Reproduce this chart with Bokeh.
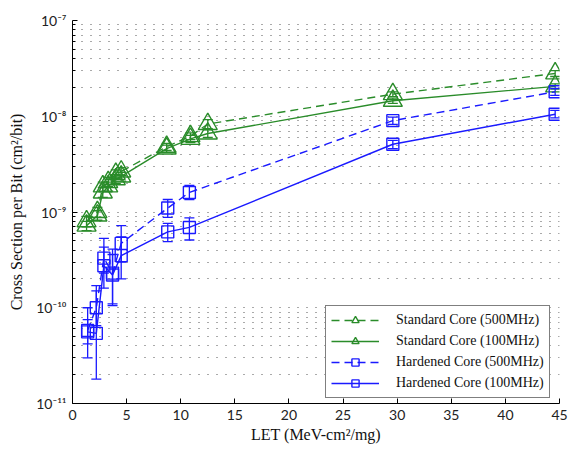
from bokeh.plotting import figure
from bokeh.models import (ColumnDataSource, Whisker, FixedTicker, CustomJSTickFormatter,
                          TeeHead, Legend, LegendItem)
from bokeh.embed import file_html
from bokeh.resources import INLINE

# ---------------- data ----------------
std_let = [1.3, 2.3, 2.8, 3.3, 4.0, 4.5, 8.7, 10.9, 12.5, 29.6, 44.6]
std500 = [8.0e-10, 1.0e-9, 1.85e-9, 2.05e-9, 2.5e-9, 2.65e-9, 4.8e-9, 6.2e-9, 8.3e-9, 1.7e-8, 2.8e-8]
std500_lo = [7.0e-10, 8.8e-10, 1.65e-9, 1.85e-9, 2.25e-9, 2.4e-9, 4.4e-9, 5.7e-9, 7.4e-9, 1.6e-8, 2.6e-8]
std500_hi = [9.0e-10, 1.12e-9, 2.05e-9, 2.3e-9, 2.75e-9, 2.9e-9, 5.2e-9, 6.7e-9, 9.2e-9, 1.8e-8, 3.0e-8]
std100 = [7.2e-10, 9.2e-10, 1.6e-9, 1.85e-9, 2.2e-9, 2.35e-9, 4.6e-9, 5.8e-9, 6.6e-9, 1.45e-8, 2.05e-8]
std100_lo = [6.4e-10, 8.2e-10, 1.42e-9, 1.65e-9, 1.98e-9, 2.1e-9, 4.2e-9, 5.3e-9, 6.0e-9, 1.36e-8, 1.92e-8]
std100_hi = [8.0e-10, 1.03e-9, 1.8e-9, 2.05e-9, 2.45e-9, 2.6e-9, 5.0e-9, 6.3e-9, 7.2e-9, 1.55e-8, 2.18e-8]

hrd_let = [1.4, 2.2, 2.9, 3.7, 4.5, 8.8, 10.8, 29.6, 44.6]
hrd500 = [5.8e-11, 1.0e-10, 3.3e-10, 2.3e-10, 4.7e-10, 1.1e-9, 1.6e-9, 9.0e-9, 1.8e-8]
hrd500_lo = [3.0e-11, 6.5e-11, 2.3e-10, 1.1e-10, 3.0e-10, 8.8e-10, 1.35e-9, 8.2e-9, 1.65e-8]
hrd500_hi = [1.0e-10, 1.5e-10, 5.3e-10, 4.1e-10, 7.2e-10, 1.35e-9, 1.9e-9, 9.8e-9, 1.95e-8]
hrd100 = [5.6e-11, 5.4e-11, 2.75e-10, 2.2e-10, 3.5e-10, 6.2e-10, 6.9e-10, 5.1e-9, 1.05e-8]
hrd100_lo = [4.2e-11, 1.8e-11, 1.6e-10, 1.05e-10, 2.0e-10, 4.9e-10, 5.1e-10, 4.6e-9, 9.6e-9]
hrd100_hi = [7.5e-11, 1.7e-10, 4.3e-10, 3.6e-10, 5.5e-10, 7.6e-10, 8.7e-10, 5.6e-9, 1.15e-8]

labels = ["Standard Core (500MHz)", "Standard Core (100MHz)",
          "Hardened Core (500MHz)", "Hardened Core (100MHz)"]
x_ticks = [0, 5, 10, 15, 20, 25, 30, 35, 40, 45]
y_decades = [1e-11, 1e-10, 1e-9, 1e-8, 1e-7]

GREEN = "#2a8c2a"
BLUE = "#1a1aff"

p = figure(width=571, height=450, y_axis_type="log",
           x_range=(0, 45), y_range=(1e-11, 1e-7),
           output_backend="svg", toolbar_location=None,
           min_border_left=72, min_border_right=12,
           min_border_top=20, min_border_bottom=47)
p.outline_line_color = None
p.background_fill_color = "white"

series = [
    (std_let, std500, std500_lo, std500_hi, GREEN, "dashed", "triangle", 19),
    (std_let, std100, std100_lo, std100_hi, GREEN, "solid", "triangle", 19),
    (hrd_let, hrd500, hrd500_lo, hrd500_hi, BLUE, "dashed", "square", 12),
    (hrd_let, hrd100, hrd100_lo, hrd100_hi, BLUE, "solid", "square", 12),
]

items = []
for (xs, ys, lo, hi, col, dash, mk, sz), lab in zip(series, labels):
    src = ColumnDataSource(dict(x=xs, y=ys, lo=lo, hi=hi))
    w = Whisker(source=src, base="x", upper="hi", lower="lo",
                line_color=col, line_width=1.3,
                upper_head=TeeHead(size=10, line_color=col, line_width=1.3),
                lower_head=TeeHead(size=10, line_color=col, line_width=1.3))
    p.add_layout(w)
    ln = p.line("x", "y", source=src, line_color=col, line_width=1.4,
                line_dash="8 5" if dash == "dashed" else "solid")
    sc = p.scatter("x", "y", source=src, marker=mk, size=sz,
                   line_color=col, fill_color=None, line_width=1.4)
    items.append(LegendItem(label=lab, renderers=[ln, sc]))

legend = Legend(items=items, location=(253, 5))
legend.border_line_color = "black"
legend.border_line_width = 1
legend.background_fill_color = "white"
legend.background_fill_alpha = 1
legend.label_text_font = "Liberation Serif"
legend.label_text_font_size = "14px"
legend.label_text_color = "#111111"
legend.glyph_width = 48
legend.glyph_height = 18
legend.label_height = 18
legend.label_standoff = 17
legend.spacing = 3
legend.padding = 5
legend.margin = 0
p.add_layout(legend)

# axes
p.xaxis.ticker = FixedTicker(ticks=x_ticks)
minor = [m * d for d in y_decades[:-1] for m in range(2, 10)]
p.yaxis.ticker = FixedTicker(ticks=y_decades, minor_ticks=minor)
p.yaxis.formatter = CustomJSTickFormatter(code="""
const sup = {"-":"\u207b","0":"\u2070","1":"\u00b9","2":"\u00b2","3":"\u00b3","4":"\u2074","5":"\u2075","6":"\u2076","7":"\u2077","8":"\u2078","9":"\u2079"};
const e = Math.round(Math.log10(tick));
return "10" + String(e).split("").map(c => sup[c]).join("");
""")

for ax in (p.xaxis[0], p.yaxis[0]):
    ax.axis_line_color = "black"
    ax.axis_line_width = 1
    ax.major_tick_in = 5
    ax.major_tick_out = 0
    ax.major_tick_line_color = "black"
    ax.major_label_text_font = "Lato"
    ax.major_label_text_font_size = "14px"
    ax.major_label_text_color = "#222222"
    ax.axis_label_text_font = "Liberation Serif"
    ax.axis_label_text_font_size = "16px"
    ax.axis_label_text_font_style = "normal"
    ax.axis_label_text_color = "#111111"

p.xaxis.minor_tick_line_color = None
p.yaxis.minor_tick_in = 3
p.yaxis.minor_tick_out = 0
p.yaxis.minor_tick_line_color = "black"
p.xaxis.major_label_standoff = 6
p.yaxis.major_label_standoff = 6
p.xaxis.axis_label_standoff = 3
p.yaxis.axis_label_standoff = 8
p.xaxis.axis_label = "LET (MeV-cm\u00b2/mg)"
p.yaxis.axis_label = "Cross Section per Bit (cm\u00b2/bit)"

p.xgrid.grid_line_color = None
p.ygrid.grid_line_color = "#555555"
p.ygrid.grid_line_dash = "1 8"
p.ygrid.grid_line_width = 1.2
p.ygrid.minor_grid_line_color = "#555555"
p.ygrid.minor_grid_line_dash = "1 8"
p.ygrid.minor_grid_line_width = 1.2

open("out.html", "w").write(file_html(p, INLINE))
